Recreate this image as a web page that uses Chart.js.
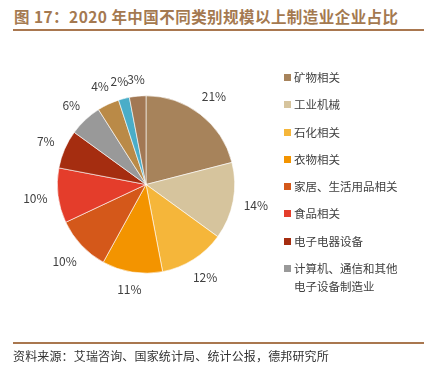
<!DOCTYPE html>
<html>
<head>
<meta charset="utf-8">
<script src="https://cdn.jsdelivr.net/npm/chart.js@4"></script>
<style>
    body { margin: 0; background: #fff; font-family: "Noto Sans CJK SC", "Noto Sans", sans-serif; }
    #wrap { position: relative; width: 433px; height: 373px; overflow: hidden; }
    #title { position: absolute; left: 14px; top: 5px; font-size: 15.5px; font-weight: bold; color: #A47950; letter-spacing: 0.45px; white-space: nowrap; }
    .rule { position: absolute; left: 13px; width: 411px; height: 2px; background: #A9774F; }
    #legend { position: absolute; left: 284px; top: 68px; font-size: 11.5px; color: #404040; }
    .item { position: relative; height: 27.3px; line-height: 18px; padding-left: 10px; white-space: nowrap; }
    .item i { position: absolute; left: 0; top: 6px; width: 7px; height: 7px; }
    #source { position: absolute; left: 13px; top: 347px; font-size: 12px; color: #333; letter-spacing: 0.15px; white-space: nowrap; }
    canvas { position: absolute; left: 0; top: 0; }
</style>
</head>
<body>
<div id="wrap">
    <div id="title">图 17：2020 年中国不同类别规模以上制造业企业占比</div>
    <div class="rule" style="top: 29px;"></div>
    <canvas id="pieChart" width="433" height="373"></canvas>
    <div id="legend"></div>
    <div class="rule" style="top: 342px;"></div>
    <div id="source">资料来源：艾瑞咨询、国家统计局、统计公报，德邦研究所</div>
</div>
<script>
// categories shown in the legend (the last three slices have no legend entry)
const categories = [
    '矿物相关', '工业机械', '石化相关', '衣物相关',
    '家居、生活用品相关', '食品相关', '电子电器设备',
    ['计算机、通信和其他', '电子设备制造业']
];
const shares = [21, 14, 12, 11, 10, 10, 7, 6, 4, 2, 3];
const colors = [
    '#A7835B', '#D6C49D', '#F5B63A', '#F39400', '#D4581A', '#E43D2B',
    '#A52D10', '#999999', '#BA8A47', '#4AADC8', '#A27854'
];

// percent labels outside each slice
const outsideLabels = {
    id: 'outsideLabels',
    afterDatasetsDraw(chart) {
        const ctx = chart.ctx;
        const meta = chart.getDatasetMeta(0);
        ctx.save();
        ctx.font = '12px "Noto Sans CJK SC", "Noto Sans", sans-serif';
        ctx.fillStyle = '#404040';
        ctx.textAlign = 'center';
        ctx.textBaseline = 'middle';
        meta.data.forEach(function(arc, i) {
            const p = arc.getProps(['x', 'y', 'startAngle', 'endAngle', 'outerRadius'], true);
            const mid = (p.startAngle + p.endAngle) / 2;
            const ux = Math.cos(mid), uy = Math.sin(mid);
            const text = shares[i] + '%';
            const w = ctx.measureText(text).width;
            const d = p.outerRadius + 10 + Math.abs(ux) * w / 2 + Math.abs(uy) * 6;
            ctx.fillText(text, p.x + ux * d, p.y + uy * d);
        });
        ctx.restore();
    }
};

const ctx = document.getElementById('pieChart').getContext('2d');
const pieChart = new Chart(ctx, {
    type: 'pie',
    data: {
        labels: shares.map((v, i) => (i < categories.length ? categories[i] : '')),
        datasets: [{
            data: shares,
            backgroundColor: colors,
            borderColor: '#ffffff',
            borderWidth: 0.6
        }]
    },
    options: {
        responsive: false,
        animation: false,
        layout: { padding: { left: 57, right: 198, top: 95, bottom: 99 } },
        plugins: {
            legend: { display: false },
            tooltip: { enabled: false }
        }
    },
    plugins: [outsideLabels]
});

// html legend
const legend = document.getElementById('legend');
categories.forEach(function(name, i) {
    const div = document.createElement('div');
    div.className = 'item';
    const lines = Array.isArray(name) ? name : [name];
    div.innerHTML = '<i style="background:' + colors[i] + '"></i>' + lines.join('<br>');
    legend.appendChild(div);
});
</script>
</body>
</html>
